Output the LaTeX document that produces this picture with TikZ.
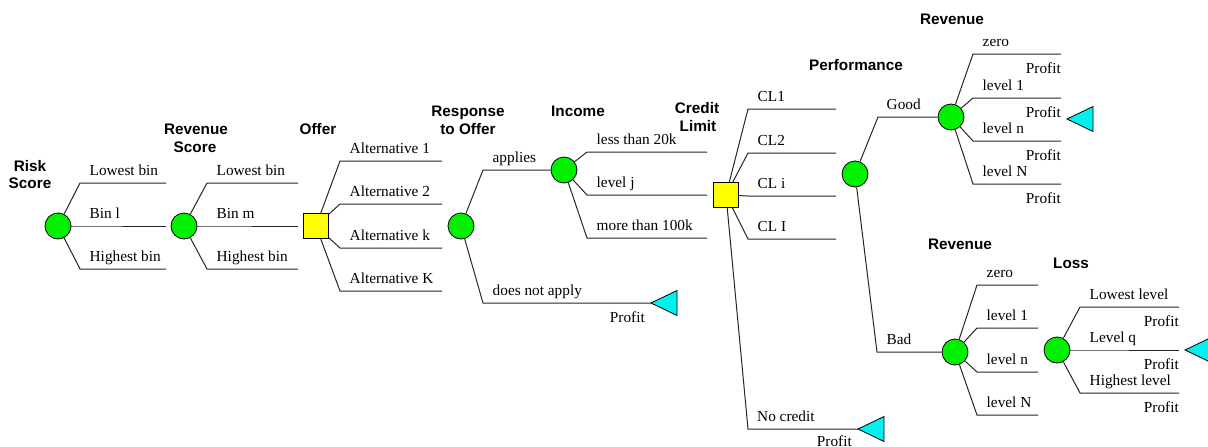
\documentclass[tikz,border=0pt]{standalone}
\usepackage{fontspec}
\setmainfont{Liberation Serif}
\newfontfamily\hdfont{Liberation Sans}
\definecolor{chgreen}{RGB}{0,240,0}
\definecolor{decyellow}{RGB}{255,255,0}
\definecolor{termcyan}{RGB}{0,240,240}
\tikzset{
  chance/.style={circle, draw=black, fill=chgreen, minimum size=26pt, inner sep=0pt, line width=0.8pt},
  decision/.style={rectangle, draw=black, fill=decyellow, minimum size=25pt, inner sep=0pt, line width=0.8pt},
  edge/.style={draw=black!85, line width=1pt},
  lab/.style={anchor=base west, inner sep=0pt, font=\fontsize{15.3}{17}\selectfont},
  prof/.style={anchor=base east, inner sep=0pt, font=\fontsize{15.3}{17}\selectfont},
  hd/.style={anchor=base, inner sep=0pt, font=\hdfont\bfseries\fontsize{15.3}{17}\selectfont},
  term/.style={draw=black, fill=termcyan, line width=0.8pt, line join=miter}
}
% #1 from node, #2 name, #3 elbow x, #4 y, #5 end x, #6 label
\newcommand\mybranch[6]{%
  \coordinate (#2a) at (#3,#4);
  \coordinate (#2b) at (#5,#4);
  \draw[edge] (#1) -- (#2a) -- (#2b);
  \node[lab] (#2l) at ({#3+9.5},{#4-7.5}) {#6};}
% #1 name, #2 right x, #3 line y
\newcommand\myprofit[3]{\node[prof] (#1) at (#2,{#3+19}) {Profit};}
\begin{document}
\begin{tikzpicture}[x=1pt,y=-1pt]
\useasboundingbox (0,0) rectangle (1208,447);
\clip (0,0) rectangle (1208,447);

% decision / chance nodes
\node[chance] (risk) at (58,226) {};
\node[chance] (revs) at (184,226) {};
\node[decision] (offer) at (316,226) {};
\node[chance] (resp) at (461,226) {};
\node[chance] (inc) at (564,170) {};
\node[decision] (cred) at (726,195) {};
\node[chance] (perf) at (855,174) {};
\node[chance] (revg) at (951,117) {};
\node[chance] (revb) at (955,352) {};
\node[chance] (loss) at (1057,350) {};

% terminal triangles
\coordinate (t1) at (651,303);
\coordinate (t2) at (858,429);
\coordinate (t3) at (1067,119);
\coordinate (t4) at (1185,350);
\foreach \t in {t1,t2,t3,t4}
  \draw[term] (\t) -- ++(26,-12.5) -- ++(0,25) -- cycle;

% headers
\node[hd] (h1a) at (30,171) {Risk};
\node[hd] (h1b) at (30,188) {Score};
\node[hd] (h2a) at (196,134) {Revenue};
\node[hd] (h2b) at (195,152) {Score};
\node[hd] (h3) at (318,134) {Offer};
\node[hd] (h4a) at (468,116) {Response};
\node[hd] (h4b) at (468,134) {to Offer};
\node[hd] (h5) at (578,116) {Income};
\node[hd] (h6a) at (697,113) {Credit};
\node[hd] (h6b) at (698,131) {Limit};
\node[hd] (h7) at (856,70) {Performance};
\node[hd] (h8) at (952,24) {Revenue};
\node[hd] (h9) at (960,249) {Revenue};
\node[hd] (h10) at (1071,268) {Loss};

% risk score
\mybranch{risk}{ra}{80}{183}{166}{Lowest bin}
\mybranch{risk}{rb}{80}{226}{166}{Bin l}
\mybranch{risk}{rc}{80}{269}{166}{Highest bin}
% revenue score
\mybranch{revs}{sa}{207}{183}{298}{Lowest bin}
\mybranch{revs}{sb}{207}{226}{298}{Bin m}
\mybranch{revs}{sc}{207}{269}{298}{Highest bin}
% offer
\mybranch{offer}{oa}{340}{161}{442}{Alternative 1}
\mybranch{offer}{ob}{340}{204}{442}{Alternative 2}
\mybranch{offer}{oc}{340}{248}{442}{Alternative k}
\mybranch{offer}{od}{340}{291}{442}{Alternative K}
% response
\coordinate (pa) at (483,170);
\draw[edge] (resp) -- (pa) -- (inc);
\node[lab] (pal) at (492.5,162.5) {applies};
\coordinate (pb) at (483,303);
\draw[edge] (resp) -- (pb) -- (t1);
\node[lab] (pbl) at (492.5,295.5) {does not apply};
\node[prof] (pr1) at (645,322) {Profit};
% income
\mybranch{inc}{ia}{587}{152}{707}{less than 20k}
\mybranch{inc}{ib}{587}{195}{707}{level j}
\mybranch{inc}{ic}{587}{238}{707}{more than 100k}
% credit limit
\mybranch{cred}{ca}{748}{109}{836}{CL1}
\mybranch{cred}{cb}{748}{153}{836}{CL2}
\mybranch{cred}{cc}{748}{196}{836}{CL i}
\mybranch{cred}{cd}{748}{239}{836}{CL I}
\coordinate (ce) at (748,429);
\draw[edge] (cred) -- (ce) -- (t2);
\node[lab] (cel) at (757,421.5) {No credit};
\node[prof] (pr2) at (852,446) {Profit};
% performance
\coordinate (ga) at (878,117);
\draw[edge] (perf) -- (ga) -- (revg);
\node[lab] (gal) at (886.5,109.5) {Good};
\coordinate (ba) at (877,352);
\draw[edge] (perf) -- (ba) -- (revb);
\node[lab] (bal) at (886.5,344.5) {Bad};
% revenue (good)
\mybranch{revg}{ua}{973}{54}{1061}{zero}
\mybranch{revg}{ub}{973}{98}{1061}{level 1}
\mybranch{revg}{uc}{973}{141}{1061}{level n}
\mybranch{revg}{ud}{973}{184}{1061}{level N}
\myprofit{pua}{1061}{54}
\myprofit{pub}{1061}{98}
\myprofit{puc}{1061}{141}
\myprofit{pud}{1061}{184}
% revenue (bad)
\mybranch{revb}{va}{977}{285}{1038}{zero}
\mybranch{revb}{vb}{977}{328}{1038}{level 1}
\mybranch{revb}{vc}{977}{372}{1038}{level n}
\mybranch{revb}{vd}{977}{415}{1038}{level N}
% loss
\mybranch{loss}{la}{1080}{307}{1179}{Lowest level}
\mybranch{loss}{lb}{1080}{350}{1179}{Level q}
\mybranch{loss}{lc}{1080}{393}{1179}{Highest level}
\myprofit{pla}{1179}{307}
\myprofit{plb}{1179}{350}
\myprofit{plc}{1179}{393}
\end{tikzpicture}
\end{document}
